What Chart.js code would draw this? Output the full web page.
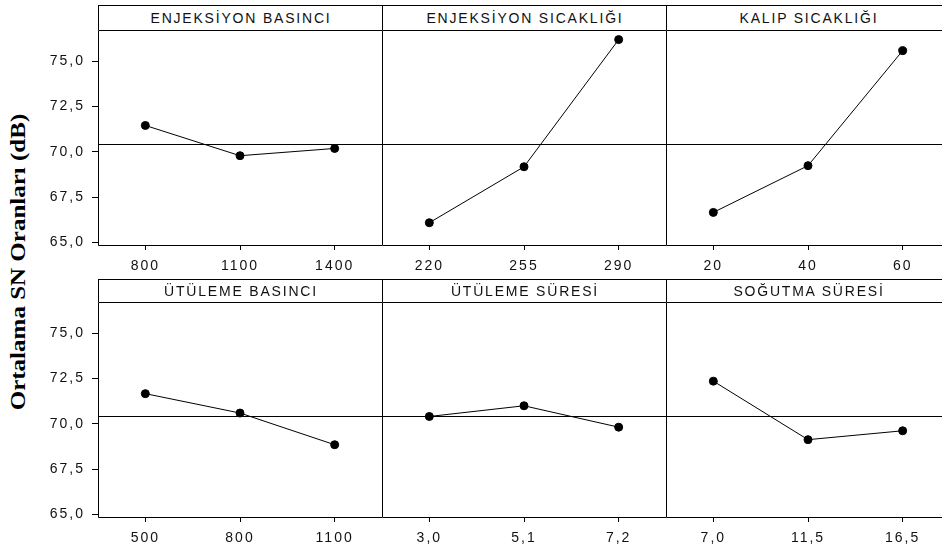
<!DOCTYPE html>
<html lang="tr">
<head>
<meta charset="UTF-8">
<title>Ortalama SN Oranları</title>
<script src="https://cdn.jsdelivr.net/npm/chart.js"></script>
<style>
body {
    margin: 0;
    background: #fff;
    overflow: hidden;
}
#page {
    position: relative;
    width: 942px;
    height: 552px;
    overflow: hidden;
    background: #fff;
}
.panel {
    position: absolute;
}
.header {
    position: absolute;
    box-sizing: border-box;
    border-top: 1px solid #000;
    border-left: 1px solid #000;
    font: 14px 'Liberation Sans', Arial, sans-serif;
    letter-spacing: 1.8px;
    text-align: center;
    color: #111;
}
#ytitle {
    position: absolute;
    left: 18px;
    top: 262px;
    white-space: nowrap;
    font: bold 20px 'Liberation Serif', 'Times New Roman', serif;
    color: #000;
    transform: translate(-50%, -50%) rotate(-90deg) scaleX(1.25);
}
</style>
</head>
<body>
<div id="page">
    <div id="ytitle">Ortalama SN Oranları (dB)</div>
</div>
<script>
// factor levels and mean S/N ratios
const enjBasinciLevels = ['800', '1100', '1400'];
const enjBasinciSN = [71.45, 69.78, 70.18];

const enjSicakligiLevels = ['220', '255', '290'];
const enjSicakligiSN = [66.08, 69.17, 76.19];

const kalipSicakligiLevels = ['20', '40', '60'];
const kalipSicakligiSN = [66.65, 69.23, 75.58];

const utulemeBasinciLevels = ['500', '800', '1100'];
const utulemeBasinciSN = [71.66, 70.59, 68.84];

const utulemeSuresiLevels = ['3,0', '5,1', '7,2'];
const utulemeSuresiSN = [70.40, 70.99, 69.81];

const sogutmaSuresiLevels = ['7,0', '11,5', '16,5'];
const sogutmaSuresiSN = [72.35, 69.12, 69.61];

const yTicks = [65, 67.5, 70, 72.5, 75];
const grandMean = 70.45;

const panels = [
    { title: 'ENJEKSİYON BASINCI', levels: enjBasinciLevels, values: enjBasinciSN },
    { title: 'ENJEKSİYON SICAKLIĞI', levels: enjSicakligiLevels, values: enjSicakligiSN },
    { title: 'KALIP SICAKLIĞI', levels: kalipSicakligiLevels, values: kalipSicakligiSN },
    { title: 'ÜTÜLEME BASINCI', levels: utulemeBasinciLevels, values: utulemeBasinciSN },
    { title: 'ÜTÜLEME SÜRESİ', levels: utulemeSuresiLevels, values: utulemeSuresiSN },
    { title: 'SOĞUTMA SÜRESİ', levels: sogutmaSuresiLevels, values: sogutmaSuresiSN }
];

// layout of the 2x3 grid
const colLefts = [98, 382, 666];
const colWidth = 284;
const headerTops = [5, 279];
const plotTops = [30, 302];
const yMin = 64.85, yMax = 76.72;
const tickFont = { family: "'Liberation Sans', Arial, sans-serif", size: 14 };

const framePlugin = {
    id: 'frame',
    beforeLayout(chart) { chart.ctx.letterSpacing = '2px'; },
    beforeDraw(chart) { chart.ctx.letterSpacing = '2px'; },
    beforeDatasetsDraw(chart) {
        const { ctx, chartArea: a } = chart;
        const y = Math.round(chart.scales.y.getPixelForValue(grandMean)) + 0.5;
        ctx.save();
        ctx.strokeStyle = '#000';
        ctx.lineWidth = 1;
        ctx.beginPath();
        ctx.moveTo(a.left, y);
        ctx.lineTo(a.right, y);
        ctx.stroke();
        ctx.restore();
    },
    afterDraw(chart) {
        const { ctx, chartArea: a } = chart;
        ctx.save();
        ctx.strokeStyle = '#000';
        ctx.lineWidth = 1;
        ctx.beginPath();
        ctx.moveTo(a.right, a.top + 0.5);
        ctx.lineTo(a.left + 0.5, a.top + 0.5);
        ctx.lineTo(a.left + 0.5, a.bottom + 0.5);
        ctx.lineTo(a.right, a.bottom + 0.5);
        ctx.stroke();
        ctx.restore();
    }
};

const page = document.getElementById('page');

panels.forEach(function(p, i) {
    const col = i % 3, row = Math.floor(i / 3);
    const first = col === 0;

    const header = document.createElement('div');
    header.className = 'header';
    header.style.left = colLefts[col] + 'px';
    header.style.top = headerTops[row] + 'px';
    header.style.width = (colWidth + 1) + 'px';
    header.style.height = (plotTops[row] - headerTops[row]) + 'px';
    header.style.lineHeight = (plotTops[row] - headerTops[row]) + 'px';
    header.textContent = p.title;
    page.appendChild(header);

    const wrap = document.createElement('div');
    wrap.className = 'panel';
    const w = first ? colLefts[0] + colWidth : colWidth;
    wrap.style.left = (first ? 0 : colLefts[col]) + 'px';
    wrap.style.top = (plotTops[row] - 10) + 'px';
    const canvas = document.createElement('canvas');
    canvas.width = w;
    canvas.height = 260;
    wrap.appendChild(canvas);
    page.appendChild(wrap);

    new Chart(canvas, {
        type: 'line',
        data: {
            labels: p.levels,
            datasets: [{
                data: p.values,
                borderColor: '#000',
                borderWidth: 1,
                pointRadius: 4,
                pointBackgroundColor: '#000',
                pointBorderColor: '#000',
                tension: 0
            }]
        },
        options: {
            responsive: false,
            animation: false,
            layout: { autoPadding: false, padding: { top: 10, right: 0, bottom: 0, left: 0 } },
            plugins: {
                legend: { display: false },
                tooltip: { enabled: false }
            },
            scales: {
                x: {
                    offset: true,
                    border: { display: false },
                    grid: { drawOnChartArea: false, drawTicks: true, tickLength: 5, color: '#000' },
                    ticks: { padding: 8, color: '#111', font: tickFont, maxRotation: 0 },
                    afterFit: function(s) {
                        s.height = 35;
                        s.paddingLeft = 0;
                        s.paddingRight = 0;
                    }
                },
                y: {
                    display: first,
                    min: yMin,
                    max: yMax,
                    border: { display: false },
                    grid: { drawOnChartArea: false, drawTicks: true, tickLength: 6, color: '#000' },
                    ticks: {
                        padding: 7,
                        color: '#111',
                        font: tickFont,
                        callback: function(v) { return v.toFixed(1).replace('.', ','); }
                    },
                    afterBuildTicks: function(s) { s.ticks = yTicks.map(function(v) { return { value: v }; }); },
                    afterFit: function(s) {
                        s.width = first ? colLefts[0] : 0;
                        s.paddingTop = 0;
                        s.paddingBottom = 0;
                    }
                }
            }
        },
        plugins: [framePlugin]
    });
});
</script>
</body>
</html>
